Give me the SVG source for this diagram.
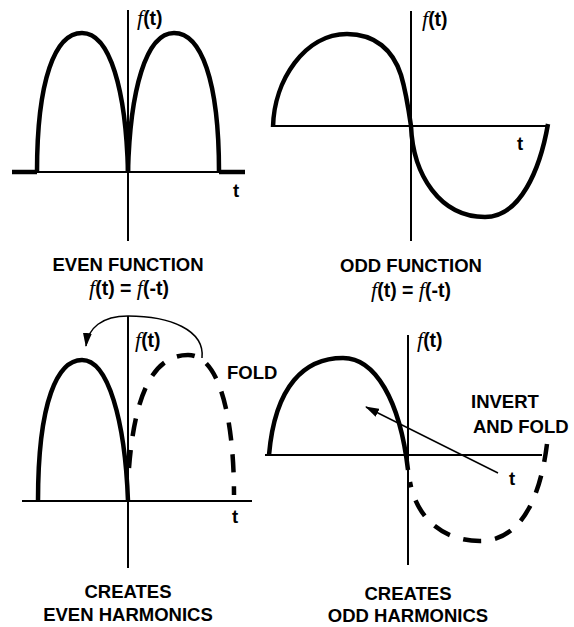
<svg xmlns="http://www.w3.org/2000/svg" width="574" height="627" viewBox="0 0 574 627">
<defs>
<style>
.axis{stroke:#000;stroke-width:2;fill:none}
.curve{stroke:#000;stroke-width:4.5;fill:none}
.dash{stroke:#000;stroke-width:4.5;fill:none;stroke-dasharray:18 14}
.conn{stroke:#000;stroke-width:1.5;fill:none;marker-end:url(#ah)}
.lbl{font-family:"Liberation Sans",Arial,sans-serif;font-weight:bold;font-size:18.5px;fill:#000}
.fl{font-size:19.5px}
.fi{font-family:"Liberation Serif","Times New Roman",serif;font-style:italic;font-weight:normal;font-size:22px}
.mid{text-anchor:middle}
</style>
<marker id="ah" markerUnits="userSpaceOnUse" markerWidth="14" markerHeight="9" viewBox="0 0 14 9" refX="13" refY="4.5" orient="auto">
<path d="M0,0 L14,4.5 L0,9 Z" fill="#000"/>
</marker>
</defs>
<rect width="574" height="627" fill="#fff"/>

<g id="even-function">
<line class="axis" x1="128" y1="10" x2="128" y2="241"/>
<line class="axis" x1="12" y1="172" x2="245" y2="172"/>
<line class="curve" x1="12" y1="172" x2="37" y2="172"/>
<line class="curve" x1="219" y1="172" x2="245" y2="172"/>
<path class="curve" d="M37,172 C37,80 55,33 82,33 C110,33 126,90 128,172"/>
<path class="curve" d="M128,172 C130,90 146,33 174,33 C201,33 219,80 219,172"/>
<text class="lbl fl" x="137" y="25"><tspan class="fi">f</tspan>(t)</text>
<text class="lbl" x="233" y="197">t</text>
<text class="lbl mid" x="128" y="271">EVEN FUNCTION</text>
<text class="lbl fl mid" x="129" y="295"><tspan class="fi">f</tspan>(t) = <tspan class="fi">f</tspan>(-t)</text>
</g>

<g id="odd-function">
<line class="axis" x1="411" y1="11" x2="411" y2="241"/>
<line class="axis" x1="273" y1="126" x2="548" y2="126"/>
<path class="curve" d="M273,127 C274,80 305,34 347,34 C375,34 393,50 401,75 C406,92 409,112 411,126 C413,175 440,217 485,217 C520,217 540,170 548,124"/>
<text class="lbl fl" x="422" y="26"><tspan class="fi">f</tspan>(t)</text>
<text class="lbl" x="517" y="150">t</text>
<text class="lbl mid" x="411" y="272">ODD FUNCTION</text>
<text class="lbl fl mid" x="411" y="297"><tspan class="fi">f</tspan>(t) = <tspan class="fi">f</tspan>(-t)</text>
</g>

<g id="even-harmonics">
<line class="axis" x1="128" y1="316" x2="128" y2="568"/>
<line class="axis" x1="22" y1="501" x2="252" y2="501"/>
<path class="curve" d="M38,501 C38,400 58,360 82,360 C108,360 125,420 128,501"/>
<path class="dash" d="M129,468 C135,390 155,355 188,355 C220,355 234,420 234,495"/>
<text class="lbl fl" x="135" y="347"><tspan class="fi">f</tspan>(t)</text>
<text class="lbl" x="227" y="379">FOLD</text>
<text class="lbl" x="232" y="523">t</text>
<text class="lbl mid" x="128" y="598">CREATES</text>
<text class="lbl mid" x="128" y="621">EVEN HARMONICS</text>
</g>

<g id="odd-harmonics">
<line class="axis" x1="408" y1="335" x2="408" y2="565"/>
<line class="axis" x1="265" y1="455" x2="542" y2="455"/>
<path class="curve" d="M269,455 C275,385 305,358 343,358 C375,358 400,400 408,470"/>
<path class="dash" d="M547,444 C540,500 520,541 480,541 C445,541 417,520 410,482"/>
<text class="lbl fl" x="417" y="347"><tspan class="fi">f</tspan>(t)</text>
<text class="lbl" x="471" y="408">INVERT</text>
<text class="lbl" x="473" y="433">AND FOLD</text>
<text class="lbl" x="509" y="485">t</text>
<text class="lbl mid" x="408" y="600">CREATES</text>
<text class="lbl mid" x="408" y="622">ODD HARMONICS</text>
</g>

<g id="connectors">
<path class="conn" d="M202,358 C205,330 170,316 128,316 C102,316 88,328 86,346"/>
<path class="conn" d="M498,473 L366,407"/>
</g>
</svg>
